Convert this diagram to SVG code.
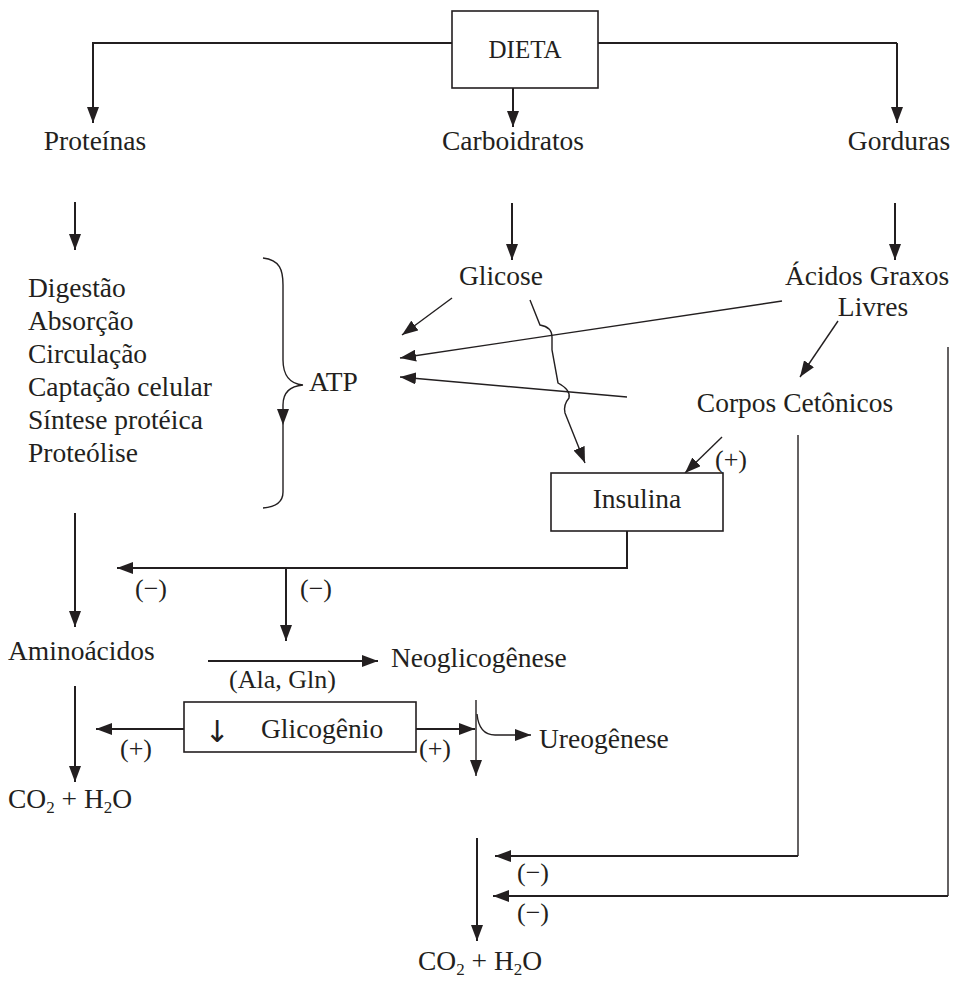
<svg xmlns="http://www.w3.org/2000/svg" width="963" height="982" viewBox="0 0 963 982">
<defs>
<marker id="ah" viewBox="0 0 16 12" refX="16" refY="6" markerWidth="16" markerHeight="12" markerUnits="userSpaceOnUse" orient="auto">
<path d="M0,0 L16,6 L0,12 z" fill="#231f20"/>
</marker>
<style>
text{font-family:"Liberation Serif","Times New Roman","DejaVu Serif",serif;font-size:27.5px;fill:#231f20}
.box{fill:#fff;stroke:#231f20;stroke-width:1.6}
.c{fill:none;stroke:#231f20;stroke-width:2}
.t{fill:none;stroke:#231f20;stroke-width:1.4}
.a{marker-end:url(#ah)}
.m{text-anchor:middle}
.s{font-size:26px}
.sub{font-size:17px}
</style>
</defs>
<rect width="963" height="982" fill="#fff"/>

<g id="connectors">
<path class="c a" d="M452,43 H93 V123"/>
<path class="c" d="M598,43 H897"/>
<path class="c a" d="M897,43 V123"/>
<path class="c a" d="M513,88 V127"/>
<path class="c a" d="M75,202 V250"/>
<path class="c a" d="M512,203 V260"/>
<path class="c a" d="M895,203 V260"/>
<path class="t a" d="M452,298 L402,335"/>
<path class="t a" d="M782,301 L400,358"/>
<path class="t a" d="M627,397 L400,377"/>
<path class="t a" d="M838,321 L800,377"/>
<path class="t a" d="M530,300 L540,325 Q552,327 552,337 L552,350 L558,383 Q571,390 569,398 Q563,405 565,413 L585,463"/>
<path class="t a" d="M722,437 L685,473"/>
<path class="t a" d="M263,258 C280,260 283,270 283,285 L283,360 C283,375 290,384 303,385 C290,386 283,393 283,405 L283,425"/>
<path class="t" d="M283,425 L283,492 C283,503 275,507 263,508"/>
<path class="c a" d="M627,531 V568 H117"/>
<path class="c a" d="M286,568 V641"/>
<path class="c a" d="M75,513 V627"/>
<path class="c a" d="M208,661 H378"/>
<path class="c a" d="M184,729 H96"/>
<path class="c a" d="M400,729 H475"/>
<path class="t a" d="M476,700 V776"/>
<path class="t a" d="M477,714 Q479,735 495,735 L531,735"/>
<path class="c a" d="M75,686 V782"/>
<path class="t" d="M798,435 V856"/>
<path class="c a" d="M798,856 H495"/>
<path class="t" d="M948,347 V896"/>
<path class="c a" d="M948,896 H493"/>
<path class="c a" d="M477,838 V941"/>
</g>

<g id="dieta"><rect class="box" x="452" y="11" width="146" height="77"/><text class="m" x="525" y="58" style="font-size:25px">DIETA</text></g>
<g id="proteinas"><text class="m" x="95" y="150">Proteínas</text></g>
<g id="carboidratos"><text class="m" x="513" y="150">Carboidratos</text></g>
<g id="gorduras"><text class="m" x="899" y="150">Gorduras</text></g>
<g id="processos">
<text x="28" y="297">Digestão</text>
<text x="28" y="330">Absorção</text>
<text x="28" y="363">Circulação</text>
<text x="28" y="396">Captação celular</text>
<text x="28" y="429">Síntese protéica</text>
<text x="28" y="462">Proteólise</text>
</g>
<g id="atp"><text x="309" y="391">ATP</text></g>
<g id="glicose"><text class="m" x="501" y="285">Glicose</text></g>
<g id="acidos-graxos"><text class="m" x="867" y="285">Ácidos Graxos</text><text class="m" x="873" y="316">Livres</text></g>
<g id="corpos-cetonicos"><text class="m" x="795" y="412">Corpos Cetônicos</text></g>
<g id="insulina"><rect class="box" x="551" y="473" width="172" height="58"/><text class="m" x="637" y="508">Insulina</text><text class="s" x="715" y="468">(+)</text></g>
<g id="labels-insulina"><text class="s" x="135" y="597">(−)</text><text class="s" x="300" y="597">(−)</text></g>
<g id="aminoacidos"><text x="8" y="660">Aminoácidos</text></g>
<g id="neoglicogenese"><text x="391" y="667">Neoglicogênese</text><text class="s" x="229" y="688">(Ala, Gln)</text></g>
<g id="glicogenio"><rect class="box" x="184" y="702" width="232" height="50"/><text x="261" y="738">Glicogênio</text><text class="m" x="217" y="742" style="font-family:'DejaVu Sans',sans-serif;font-size:30px">↓</text><text class="s" x="120" y="757">(+)</text><text class="s" x="419" y="757">(+)</text></g>
<g id="ureogenese"><text x="539" y="748">Ureogênese</text></g>
<g id="co2-h2o-1"><text x="8" y="808">CO<tspan class="sub" dy="5">2</tspan><tspan dy="-5"> + H</tspan><tspan class="sub" dy="5">2</tspan><tspan dy="-5">O</tspan></text></g>
<g id="labels-inferiores"><text class="s" x="517" y="881">(−)</text><text class="s" x="517" y="921">(−)</text></g>
<g id="co2-h2o-2"><text x="418" y="970">CO<tspan class="sub" dy="5">2</tspan><tspan dy="-5"> + H</tspan><tspan class="sub" dy="5">2</tspan><tspan dy="-5">O</tspan></text></g>
</svg>
